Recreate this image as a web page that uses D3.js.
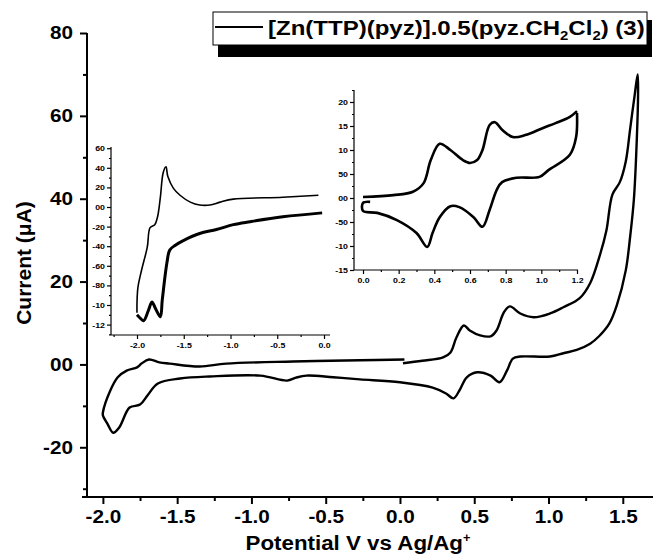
<!DOCTYPE html>
<html><head><meta charset="utf-8">
<script src="https://cdn.jsdelivr.net/npm/d3@7"></script>
<style>body{margin:0;background:#fff}svg{display:block;font-family:"Liberation Sans",Arial,sans-serif;font-weight:bold}</style>
</head><body><svg id="c" width="653" height="555"></svg>
<script>
// ---------- Main CV data (Potential V, Current µA) ----------
const mainV = [0.02,0.15,0.29,0.34,0.38,0.43,0.47,0.54,0.61,0.65,0.70,0.74,0.81,0.90,1.01,1.10,1.21,1.28,1.35,1.39,1.43,1.48,1.52,1.55,1.58,1.60,
  1.603,1.595,1.575,1.55,1.52,1.46,1.41,1.34,1.28,1.19,1.10,1.01,0.81,0.76,0.72,0.67,0.61,0.52,0.45,0.40,0.36,0.31,0.22,0.0,-0.27,-0.45,-0.63,-0.70,-0.76,-0.94,-1.28,-1.48,-1.63,-1.70,-1.75,-1.82,-1.89,-1.93,-1.97,-2.0,
  -2.0,-1.95,-1.90,-1.84,-1.77,-1.74,-1.69,-1.62,-1.55,-1.35,-1.17,-0.72,-0.27,0.03];
const mainI = [0.3,0.9,1.7,2.9,6.5,9.4,8.2,7.0,6.8,8.2,12.6,14.0,12.3,11.4,12.3,13.8,16,19.6,26.9,32.4,41,44,49,57,65,70,
  66,55,40,31,22.7,14.3,9.9,6.8,5,3.5,2.7,1.9,1.9,1.4,-1.5,-4.3,-2.7,-1.9,-3.1,-6.3,-8.2,-7,-5.6,-4.3,-3.6,-3.1,-2.7,-3.2,-3.9,-2.7,-2.9,-3.4,-4.6,-7.5,-9.7,-10.4,-15.2,-16.5,-14.3,-12.3,
  -11.6,-6.3,-3.1,-1.5,-0.7,0.2,1.2,0.5,0.2,-0.5,0.2,0.7,1.0,1.2];
const mainXTicks = [-2.0,-1.5,-1.0,-0.5,0.0,0.5,1.0,1.5];
const mainYTicks = [80,60,40,20,0,-20];
const mainYLabels = ["80","60","40","20","00","-20"];

// ---------- Left inset (reduction) ----------
const leftUpV = [-0.06,-0.44,-0.97,-1.11,-1.22,-1.33,-1.43,-1.54,-1.61,-1.67,-1.69,-1.72,-1.75,-1.78,-1.81,-1.86,-1.89,-1.95,-1.99,-2.0,-2.0];
const leftUpI = [12,10,8,5,2,2,5,12,19,31,41,35,10,-10,-18,-21,-41,-64,-82,-98,-108];
const leftLoV = [-2.0,-1.97,-1.93,-1.88,-1.84,-1.80,-1.75,-1.73,-1.68,-1.65,-1.59,-1.50,-1.33,-1.15,-0.97,-0.79,-0.44,-0.02];
const leftLoI = [-110,-113,-116,-106,-97,-104,-112,-95,-57,-44,-39,-34,-27,-23,-18,-15,-10,-6];
const leftXTicks = [-2.0,-1.5,-1.0,-0.5,0.0];
const leftYTicks = [60,40,20,0,-20,-40,-60,-80,-100,-120];
const leftYLabels = ["60","40","20","00","-20","-40","-60","-80","-10","-12"];

// ---------- Right inset (oxidation) ----------
const rightUpV = [0,0.17,0.28,0.34,0.38,0.43,0.49,0.56,0.60,0.64,0.67,0.71,0.74,0.78,0.84,0.91,1.01,1.08,1.16,1.20];
const rightUpI = [0.2,0.6,1.3,3.1,7.9,11.3,10,7.9,7.3,7.9,10,15.2,15.8,14.2,12.7,13.1,14.6,15.6,16.9,18.1];
const rightLoV = [1.20,1.195,1.16,1.04,0.99,0.86,0.78,0.75,0.71,0.67,0.62,0.54,0.49,0.43,0.39,0.36,0.30,0.19,0.08,0.0,0.0,0.04];
const rightLoI = [17.7,12.7,9,5.8,4.4,4.2,3.3,1.7,-2.5,-6,-4,-1.9,-1.7,-4,-7.3,-10.2,-7.3,-4.6,-3.1,-2.7,-1,-0.8];
const rightXTicks = [0.0,0.2,0.4,0.6,0.8,1.0,1.2];
const rightYTicks = [20,15,10,5,0,-5,-10,-15];
const rightYLabels = ["20","15","10","50","00","-50","-10","-15"];

const svg = d3.select("#c");
const zip = (a,b) => a.map((v,i)=>[v,b[i]]);
const curve = d3.curveCatmullRom.alpha(0.5);

// stretch text horizontally about its own x anchor
function stretch(sel, s) {
  sel.each(function(){
    const ax = +(this.getAttribute("x")||0);
    const old = this.getAttribute("transform")||"";
    d3.select(this).attr("transform", old+` translate(${ax},0) scale(${s},1) translate(${-ax},0)`);
  });
}
function fitWidth(node, target) {
  const w = node.getComputedTextLength();
  stretch(d3.select(node), target / w);
}

function axes(g, x, y, o) {
  const ya = d3.axisLeft(y).tickValues(o.yTicks).tickSize(o.maj).tickPadding(o.pad)
     .tickFormat((d,i)=>o.yLabels[i]);
  const gy = g.append("g").attr("transform",`translate(${o.x0},0)`).call(ya);
  gy.append("g").call(d3.axisLeft(y).tickValues(o.yMinor).tickSize(o.min).tickFormat(""));
  const xa = d3.axisBottom(x).tickValues(o.xTicks).tickSize(o.maj).tickPadding(o.xpad)
     .tickFormat(d=>d3.format(".1f")(d).replace("\u2212","-"));
  const gx = g.append("g").attr("transform",`translate(0,${o.y0})`).call(xa);
  gx.append("g").call(d3.axisBottom(x).tickValues(o.xMinor).tickSize(o.min).tickFormat(""));
  [gx,gy].forEach(a=>{
    a.selectAll(".domain").remove();
    a.selectAll("line").attr("stroke","#000").attr("stroke-width",o.sw);
    a.selectAll("text").attr("font-size",o.fs).attr("font-weight","bold").attr("fill","#000")
      .attr("font-family","'Liberation Sans',Arial,sans-serif");
    stretch(a.selectAll("text"), o.sx);
  });
  g.append("line").attr("x1",o.x0).attr("x2",o.x0).attr("y1",o.yTop).attr("y2",o.y0).attr("stroke","#000").attr("stroke-width",o.sw);
  g.append("line").attr("x1",o.xLeft).attr("x2",o.xRight).attr("y1",o.y0).attr("y2",o.y0).attr("stroke","#000").attr("stroke-width",o.sw);
}

// ---------- Main plot ----------
const x = d3.scaleLinear().domain([-2.107,1.70]).range([87,652.5]);
const y = d3.scaleLinear().domain([-32,80]).range([497,33]);
const gm = svg.append("g");
axes(gm, x, y, {x0:87, y0:497, yTop:33, xLeft:82, xRight:653, maj:7, min:4, pad:7, xpad:6, fs:18, sx:1.15, sw:2,
  yTicks:mainYTicks, yLabels:mainYLabels, yMinor:[70,50,30,10,-10,-30],
  xTicks:mainXTicks, xMinor:[-1.75,-1.25,-0.75,-0.25,0.25,0.75,1.25]});

const line = d3.line().x(d=>x(d[0])).y(d=>y(d[1])).curve(curve);
gm.append("path").datum(zip(mainV,mainI)).attr("d",line).attr("fill","none").attr("stroke","#000").attr("stroke-width",2.4).attr("stroke-linejoin","round");

// axis titles
const xt = svg.append("text").attr("x",358).attr("y",550).attr("text-anchor","middle").attr("font-size",21)
  .html('Potential V vs Ag/Ag<tspan dy="-8" font-size="12">+</tspan>');
fitWidth(xt.node(), 225);
const yt = svg.append("text").attr("transform","translate(31,263) rotate(-90)").attr("text-anchor","middle").attr("font-size",21)
  .text("Current (\u03bcA)");

// ---------- Left inset ----------
const xl = d3.scaleLinear().domain([-2.0,0.0]).range([137,324]);
const yl = d3.scaleLinear().domain([0,60]).range([207,148.2]);
const gl = svg.append("g");
axes(gl, xl, yl, {x0:111, y0:335, yTop:147, xLeft:111, xRight:330, maj:4, min:2, pad:2, xpad:3, fs:8, sx:1.1, sw:1.2,
  yTicks:leftYTicks, yLabels:leftYLabels, yMinor:[50,30,10,-10,-30,-50,-70,-90,-110,-130],
  xTicks:leftXTicks, xMinor:[-2.25,-1.75,-1.25,-0.75,-0.25]});
const linel = d3.line().x(d=>xl(d[0])).y(d=>yl(d[1])).curve(curve);
gl.append("path").datum(zip(leftUpV,leftUpI)).attr("d",linel).attr("fill","none").attr("stroke","#000").attr("stroke-width",1.6);
gl.append("path").datum(zip(leftLoV,leftLoI)).attr("d",linel).attr("fill","none").attr("stroke","#000").attr("stroke-width",3);

// ---------- Right inset ----------
const xr = d3.scaleLinear().domain([0.0,1.2]).range([363,577]);
const yr = d3.scaleLinear().domain([-15,22.5]).range([270,90]);
const gr = svg.append("g");
axes(gr, xr, yr, {x0:354, y0:270, yTop:90, xLeft:354, xRight:578, maj:4, min:2, pad:2, xpad:3, fs:8, sx:1.1, sw:1.2,
  yTicks:rightYTicks, yLabels:rightYLabels, yMinor:[22.5,17.5,12.5,7.5,2.5,-2.5,-7.5,-12.5],
  xTicks:rightXTicks, xMinor:[0.1,0.3,0.5,0.7,0.9,1.1]});
const liner = d3.line().x(d=>xr(d[0])).y(d=>yr(d[1])).curve(curve);
gr.append("path").datum(zip(rightUpV,rightUpI)).attr("d",liner).attr("fill","none").attr("stroke","#000").attr("stroke-width",2.6);
gr.append("path").datum(zip(rightLoV,rightLoI)).attr("d",liner).attr("fill","none").attr("stroke","#000").attr("stroke-width",2.6);

// ---------- Legend ----------
const lg = svg.append("g");
lg.append("rect").attr("x",218).attr("y",20).attr("width",434).attr("height",37).attr("fill","#000");
lg.append("rect").attr("x",213).attr("y",12).attr("width",434).attr("height",33).attr("fill","#fff").attr("stroke","#000").attr("stroke-width",1);
lg.append("line").attr("x1",215).attr("x2",263).attr("y1",27).attr("y2",27).attr("stroke","#000").attr("stroke-width",2);
const lt = lg.append("text").attr("x",268).attr("y",35).attr("font-size",21)
  .html('[Zn(TTP)(pyz)].0.5(pyz.CH<tspan dy="5" font-size="13">2</tspan><tspan dy="-5">Cl</tspan><tspan dy="5" font-size="13">2</tspan><tspan dy="-5">) (3)</tspan>');
fitWidth(lt.node(), 377);
</script></body></html>
